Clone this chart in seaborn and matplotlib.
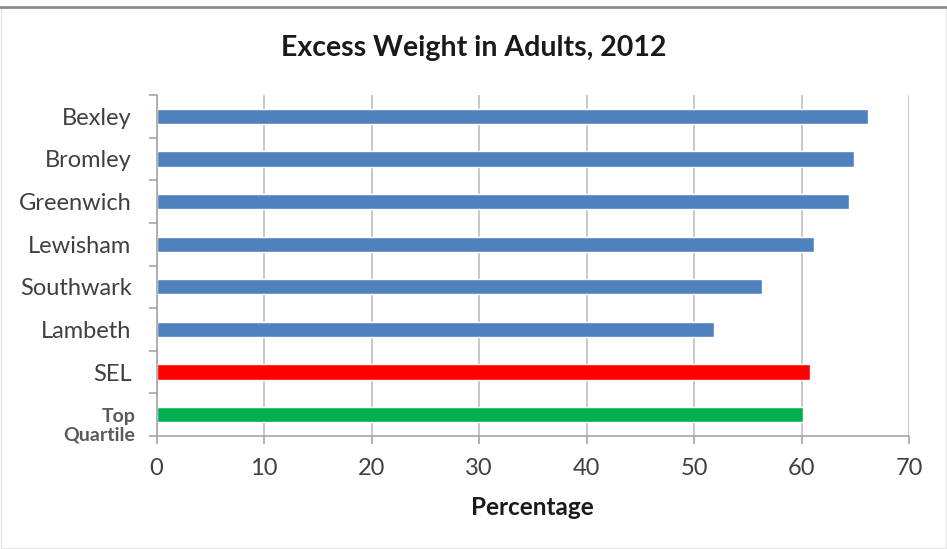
import matplotlib
matplotlib.use("Agg")
import matplotlib.pyplot as plt
from matplotlib.lines import Line2D
from matplotlib.patches import Rectangle
from matplotlib.ticker import FixedLocator, MultipleLocator
from matplotlib.transforms import ScaledTranslation
import seaborn as sns
import pandas as pd

# Excess weight prevalence in adults by borough, 2012
areas = ["Bexley", "Bromley", "Greenwich", "Lewisham", "Southwark",
         "Lambeth", "SEL", "Top\nQuartile"]
percentages = [66.2, 64.9, 64.4, 61.2, 56.3, 51.9, 60.8, 60.1]
bar_colors = ["#4F81BD", "#4F81BD", "#4F81BD", "#4F81BD", "#4F81BD",
              "#4F81BD", "#FF0000", "#00B050"]
x_ticks = [0, 10, 20, 30, 40, 50, 60, 70]

df = pd.DataFrame({"area": areas, "pct": percentages})

sns.set_theme(style="white")
plt.rcParams["font.family"] = ["Lato", "DejaVu Sans"]

fig = plt.figure(figsize=(9.47, 5.49), dpi=100)
ax = fig.add_axes([156.5 / 947, 1 - 436 / 549, (909 - 156.5) / 947, (436 - 95) / 549])

sns.barplot(data=df, x="pct", y="area", hue="area", palette=bar_colors,
            orient="h", width=0.36, legend=False, saturation=1, ax=ax)

ax.set_xlim(0, 70)
ax.set_ylim(len(areas) - 0.5, -0.5)
ax.xaxis.set_major_locator(FixedLocator(x_ticks))
ax.set_xticklabels([str(t) for t in x_ticks])

grid_c = "#BFBFBF"
ax.grid(axis="x", color=grid_c, linewidth=1.2)
ax.set_axisbelow(True)
for side in ["top", "right"]:
    ax.spines[side].set_visible(False)
for side in ["left", "bottom"]:
    ax.spines[side].set_color("#A6A6A6")
    ax.spines[side].set_linewidth(1.2)

# category tick marks sit on the band boundaries
ax.yaxis.set_minor_locator(MultipleLocator(1, offset=0.5))
ax.tick_params(axis="y", which="major", length=0, pad=18, labelsize=17,
               labelcolor="#404040")
ax.tick_params(axis="y", which="minor", left=True, length=6, color="#A6A6A6",
               width=1.2)
ax.tick_params(axis="x", which="major", bottom=True, length=6, color="#A6A6A6",
               width=1.2, pad=10, labelsize=17, labelcolor="#404040")

for lbl in ax.get_yticklabels():
    if lbl.get_text().startswith("Top"):
        lbl.set_fontweight("bold")
        lbl.set_fontsize(14)
        lbl.set_linespacing(1.12)
        lbl.set_multialignment("right")
        lbl.set_color("#595959")
        lbl.set_transform(lbl.get_transform()
                          + ScaledTranslation(4 / 100, -9 / 100, fig.dpi_scale_trans))

ax.set_ylabel("")
ax.set_xlabel("Percentage", fontsize=17.5, fontweight="bold", color="#1a1a1a",
              labelpad=12)

fig.text(0.5, 1 - 48 / 549, "Excess Weight in Adults, 2012",
         ha="center", va="center", fontsize=20.5, fontweight="bold",
         color="#1a1a1a")

# outer frame of the chart area
fig.add_artist(Line2D([0, 1], [1 - 6.5 / 549] * 2, transform=fig.transFigure,
                      color="#8C8C8C", linewidth=2))
fig.add_artist(Rectangle((1 / 947, 1 / 549), 945 / 947, 1 - 8 / 549,
                         transform=fig.transFigure, fill=False,
                         edgecolor="#E6E6E6", linewidth=1))

fig.savefig("out.png", dpi=100)
